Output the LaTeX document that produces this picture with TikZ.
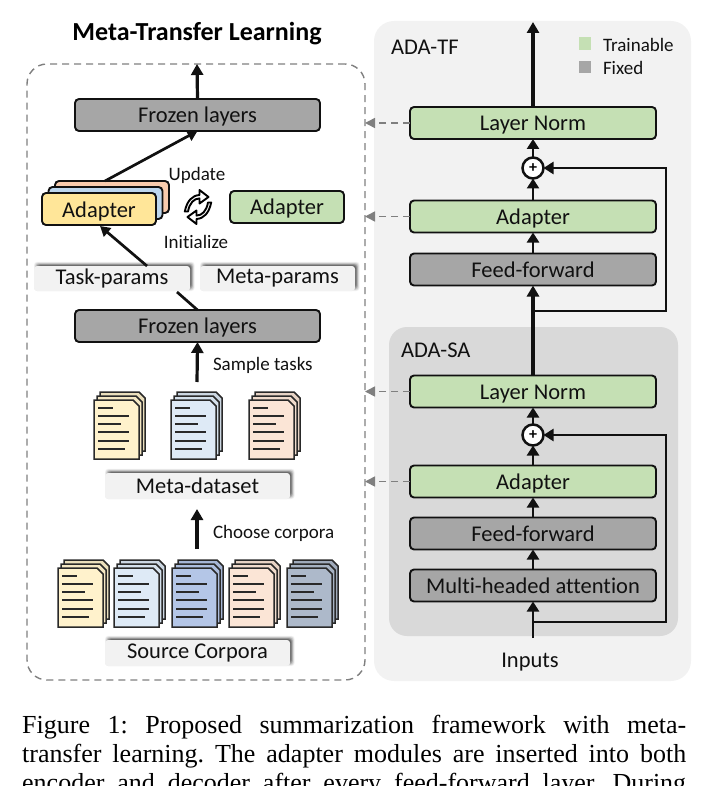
\documentclass[tikz,border=0pt]{standalone}
\usepackage{fontspec}
\setmainfont[Ligatures=NoCommon]{Carlito}
\newfontfamily\capfont{Liberation Serif}
\usetikzlibrary{arrows.meta,calc}
\definecolor{cgreen}{HTML}{C5E0B4}
\definecolor{cgrey}{HTML}{A6A6A6}
\definecolor{cyellow}{HTML}{FFE699}
\definecolor{cblue}{HTML}{BDD7EE}
\definecolor{corange}{HTML}{F8CBAD}
\definecolor{cpanel}{HTML}{F2F2F2}
\definecolor{cinner}{HTML}{D9D9D9}
\definecolor{cdash}{HTML}{7F7F7F}
\definecolor{pyellow}{HTML}{FFF2CC}
\definecolor{pblue}{HTML}{DEEAF6}
\definecolor{pdblue}{HTML}{B4C6E7}
\definecolor{ppeach}{HTML}{FBE5D6}
\definecolor{pslate}{HTML}{ADB9CA}
\definecolor{ink}{HTML}{111111}
\tikzset{
  lbl/.style={font=\fontsize{22.5}{24}\selectfont,text=ink,inner sep=0pt,outer sep=0pt},
  lblsm/.style={font=\fontsize{19}{20}\selectfont,text=ink,inner sep=0pt,outer sep=0pt},
  blockbase/.style={draw=ink,line width=1.9pt,rounded corners=4pt,inner sep=0pt,outer sep=0pt,
    font=\fontsize{22.5}{24}\selectfont,text=ink,text depth=0pt},
  longblock/.style={blockbase,minimum width=246pt,minimum height=32pt},
  greenblock/.style={longblock,fill=cgreen},
  greyblock/.style={longblock,fill=cgrey},
  adapterblock/.style={blockbase,minimum width=114pt,minimum height=32pt},
  softbox/.style={fill=cpanel,rounded corners=3pt,inner sep=0pt,outer sep=0pt,minimum height=25pt,
    font=\fontsize{22.5}{24}\selectfont,text=ink},
  mainarrow/.style={draw=ink,line width=3.2pt,-{Triangle[length=11pt,width=12pt]}},
  thinarrow/.style={draw=ink,line width=2.8pt,-{Triangle[length=10pt,width=12pt]}},
  slantarrow/.style={draw=ink,line width=2.7pt,-{Triangle[length=10pt,width=11pt]}},
  dasharrow/.style={draw=cdash,line width=1.6pt,dash pattern=on 7pt off 5pt,-{Triangle[length=10pt,width=10pt]}},
  pagebox/.style={draw=ink!90,line width=1.5pt,line join=miter},
  pageline/.style={draw=ink!90,line width=2pt},
  plusnode/.style={draw=ink,fill=white,line width=2.5pt,circle,minimum size=21pt,inner sep=0pt,outer sep=0pt,
    font=\fontsize{16}{16}\selectfont\bfseries},
}
\newcommand{\softshadow}[4]{%
  \foreach \s/\o in {0/.05,0.6/.07,1.2/.09,1.8/.12,2.4/.15,3/.18,3.6/.2}{%
    \fill[black,opacity=\o,rounded corners=3pt]
      ({#1-#3+\s},{#2-#4-4.2+\s}) rectangle ({#1+#3+4.6-\s},{#2+#4-\s});
  }}
\newcommand{\onepage}[3]{%
  \filldraw[pagebox,fill=#3] (#1,#2) -- ({#1+39},#2) -- ({#1+45},{#2+6}) -- ({#1+45},{#2+59}) -- (#1,{#2+59}) -- cycle;}
\newcommand{\docstack}[3]{%
  \onepage{#1+6}{#2-8}{#3!92!black}
  \onepage{#1+3}{#2-4}{#3!96!black}
  \onepage{#1}{#2}{#3}
  \foreach \yy/\ll in {8/15,16/31,24/23,32/31,41/31,49/27}{%
    \draw[pageline] ({#1+4},{#2+\yy}) -- ({#1+4+\ll},{#2+\yy});
  }}
\begin{document}
\begin{tikzpicture}[x=1pt,y=-1pt]
\useasboundingbox (0,0) rectangle (709,786);
\clip (0,0) rectangle (709,786);
\node[fill=cpanel,rounded corners=20pt,minimum width=317pt,minimum height=660pt,inner sep=0pt] (tfpanel) at (532.5,351) {};
\node[fill=cinner,rounded corners=18pt,minimum width=289pt,minimum height=309pt,inner sep=0pt] (sapanel) at (533.5,481.5) {};
\node[lbl,anchor=west] (tftitle) at (391,47) {ADA-TF};
\node[lbl,anchor=west] (satitle) at (401,350) {ADA-SA};
\node[fill=cgreen,minimum width=12pt,minimum height=12.5pt,inner sep=0pt] (lgreen) at (585,43.5) {};
\node[fill=cgrey,minimum width=12pt,minimum height=12.5pt,inner sep=0pt] (lgrey) at (585,67) {};
\node[lblsm,anchor=west] (ltrain) at (603,44.5) {Trainable};
\node[lblsm,anchor=west] (lfixed) at (603,67.5) {Fixed};
\node[greenblock] (tfln) at (533,123) {\raisebox{-1pt}{Layer Norm}};
\node[greenblock] (tfad) at (533,216.5) {Adapter};
\node[greyblock] (tfff) at (533,269.5) {Feed-forward};
\node[greenblock] (saln) at (533,391.5) {\raisebox{-1pt}{Layer Norm}};
\node[greenblock] (saad) at (533,481.5) {Adapter};
\node[greyblock] (saff) at (533,533.5) {Feed-forward};
\node[greyblock] (sama) at (533,585.5) {Multi-headed attention};
\node[plusnode] (tfplus) at (533,168) {+};
\node[plusnode] (saplus) at (533,435) {+};
\node[lbl] (inputs) at (530,662) {Inputs};
\coordinate (tfout) at (533,22);
\coordinate (sain) at (533,638);
\coordinate (tfsplit) at (533,311);
\coordinate (tfcorner) at (666,311);
\coordinate (sasplit) at (533,622);
\coordinate (sacorner) at (666,622);
\draw[mainarrow] (tfln.north) -- (tfout);
\draw[thinarrow] (tfplus.north) -- (tfln.south);
\draw[thinarrow] (tfad.north) -- (tfplus.south);
\draw[thinarrow] (tfff.north) -- (tfad.south);
\draw[mainarrow] (saln.north) -- (tfff.south);
\draw[thinarrow] (saplus.north) -- (saln.south);
\draw[thinarrow] (saad.north) -- (saplus.south);
\draw[thinarrow] (saff.north) -- (saad.south);
\draw[thinarrow] (sama.north) -- (saff.south);
\draw[thinarrow] (sain) -- (sama.south);
\draw[thinarrow] (tfsplit) -- (tfcorner) |- (tfplus.east);
\draw[thinarrow] (sasplit) -- (sacorner) |- (saplus.east);
\node[draw=cdash,line width=1.4pt,dash pattern=on 7pt off 5pt,rounded corners=20pt,minimum width=338pt,minimum height=616pt,inner sep=0pt,outer sep=0pt] (outer) at (196,372) {};
\draw[dasharrow] (tfln.west) -- (outer.east |- tfln.west);
\draw[dasharrow] (tfad.west) -- (outer.east |- tfad.west);
\draw[dasharrow] (saln.west) -- (outer.east |- saln.west);
\draw[dasharrow] (saad.west) -- (outer.east |- saad.west);
\node[font=\fontsize{26}{28}\selectfont\bfseries,text=black,inner sep=0pt] (title) at (197,34) {Meta-Transfer Learning};
\node[greyblock,minimum width=245pt] (frozentop) at (197.5,115) {Frozen layers};
\node[greyblock,minimum width=245pt] (frozenbot) at (197.5,326) {Frozen layers};
\coordinate (leftout) at (197,64);
\draw[mainarrow] (frozentop.north) -- (leftout);
\node[adapterblock,fill=corange] (adorange) at (112,197) {};
\node[adapterblock,fill=cblue] (adblue) at (105.5,203) {};
\node[adapterblock,fill=cyellow] (adyellow) at (99,209) {\raisebox{-1pt}{Adapter}};
\node[adapterblock,fill=cgreen] (adgreen) at (287,207) {Adapter};
\draw[slantarrow] ($(adorange.north)+(-7,0)$) -- (frozentop.south);
\softshadow{112}{278.5}{78}{12.5}
\softshadow{277.5}{278.5}{77.5}{12.5}
\node[softbox,minimum width=156pt] (task) at (112,278.5) {\raisebox{-3pt}{Task-params}};
\node[softbox,minimum width=155pt] (meta) at (277.5,278.5) {\raisebox{-3pt}{Meta-params}};
\draw[slantarrow] ($(task.north)+(35,0)$) -- ($(adyellow.south)+(1,1)$);
\draw[draw=ink,line width=2.7pt] (frozenbot.north) -- ($(task.south)+(65,1)$);
\node[lblsm] (update) at (197,175) {Update};
\node[lblsm] (init) at (196,241.5) {Initialize};
\foreach \rr in {0,180}{%
  \begin{scope}[shift={(198,207)},rotate=\rr]
    \filldraw[draw=black,fill=white,line width=1.9pt,line join=round]
      (-13.2,4.5) .. controls (-11,-6) and (-6,-11.5) .. (1.5,-12)
      -- (1.5,-17) -- (10.5,-10) -- (1.5,-3.5) -- (1.5,-8.6)
      .. controls (-4,-8.5) and (-8.5,-4) .. (-10,4.5) -- cycle;
  \end{scope}}
\coordinate (sampfoot) at (197,382);
\draw[mainarrow] (sampfoot) -- (frozenbot.south);
\node[lblsm,anchor=west] (sample) at (213,365) {Sample tasks};
\docstack{94}{400}{pyellow}
\docstack{171}{400}{pblue}
\docstack{249}{400}{ppeach}
\softshadow{197.5}{486}{92.5}{13}
\node[softbox,minimum width=185pt,minimum height=26pt] (metadata) at (197.5,486) {\raisebox{-2.5pt}{Meta-dataset}};
\coordinate (choosefoot) at (197,549);
\draw[mainarrow] (choosefoot) -- ($(metadata.south)+(-0.5,10)$);
\node[lblsm,anchor=west] (choose) at (213,533) {Choose corpora};
\docstack{58}{568}{pyellow}
\docstack{114}{568}{pblue}
\docstack{172}{568}{pdblue}
\docstack{229}{568}{ppeach}
\docstack{287}{568}{pslate}
\softshadow{197.5}{653}{92.5}{13}
\node[softbox,minimum width=185pt,minimum height=26pt] (source) at (197.5,653) {\raisebox{-2.5pt}{Source Corpora}};
\node[anchor=base west,inner sep=0pt,font=\capfont\fontsize{26}{26}\selectfont\frenchspacing,text=black] (cap1) at (22,733) {\makebox[664pt][s]{Figure 1: Proposed summarization framework with meta-}};
\node[anchor=base west,inner sep=0pt,font=\capfont\fontsize{26}{26}\selectfont\frenchspacing,text=black] (cap2) at (22,762) {\makebox[664pt][s]{transfer learning. The adapter modules are inserted into both}};
\node[anchor=base west,inner sep=0pt,font=\capfont\fontsize{26}{26}\selectfont\frenchspacing,text=black] (cap3) at (22,791) {\makebox[664pt][s]{encoder and decoder after every feed-forward layer. During}};
\end{tikzpicture}
\end{document}
